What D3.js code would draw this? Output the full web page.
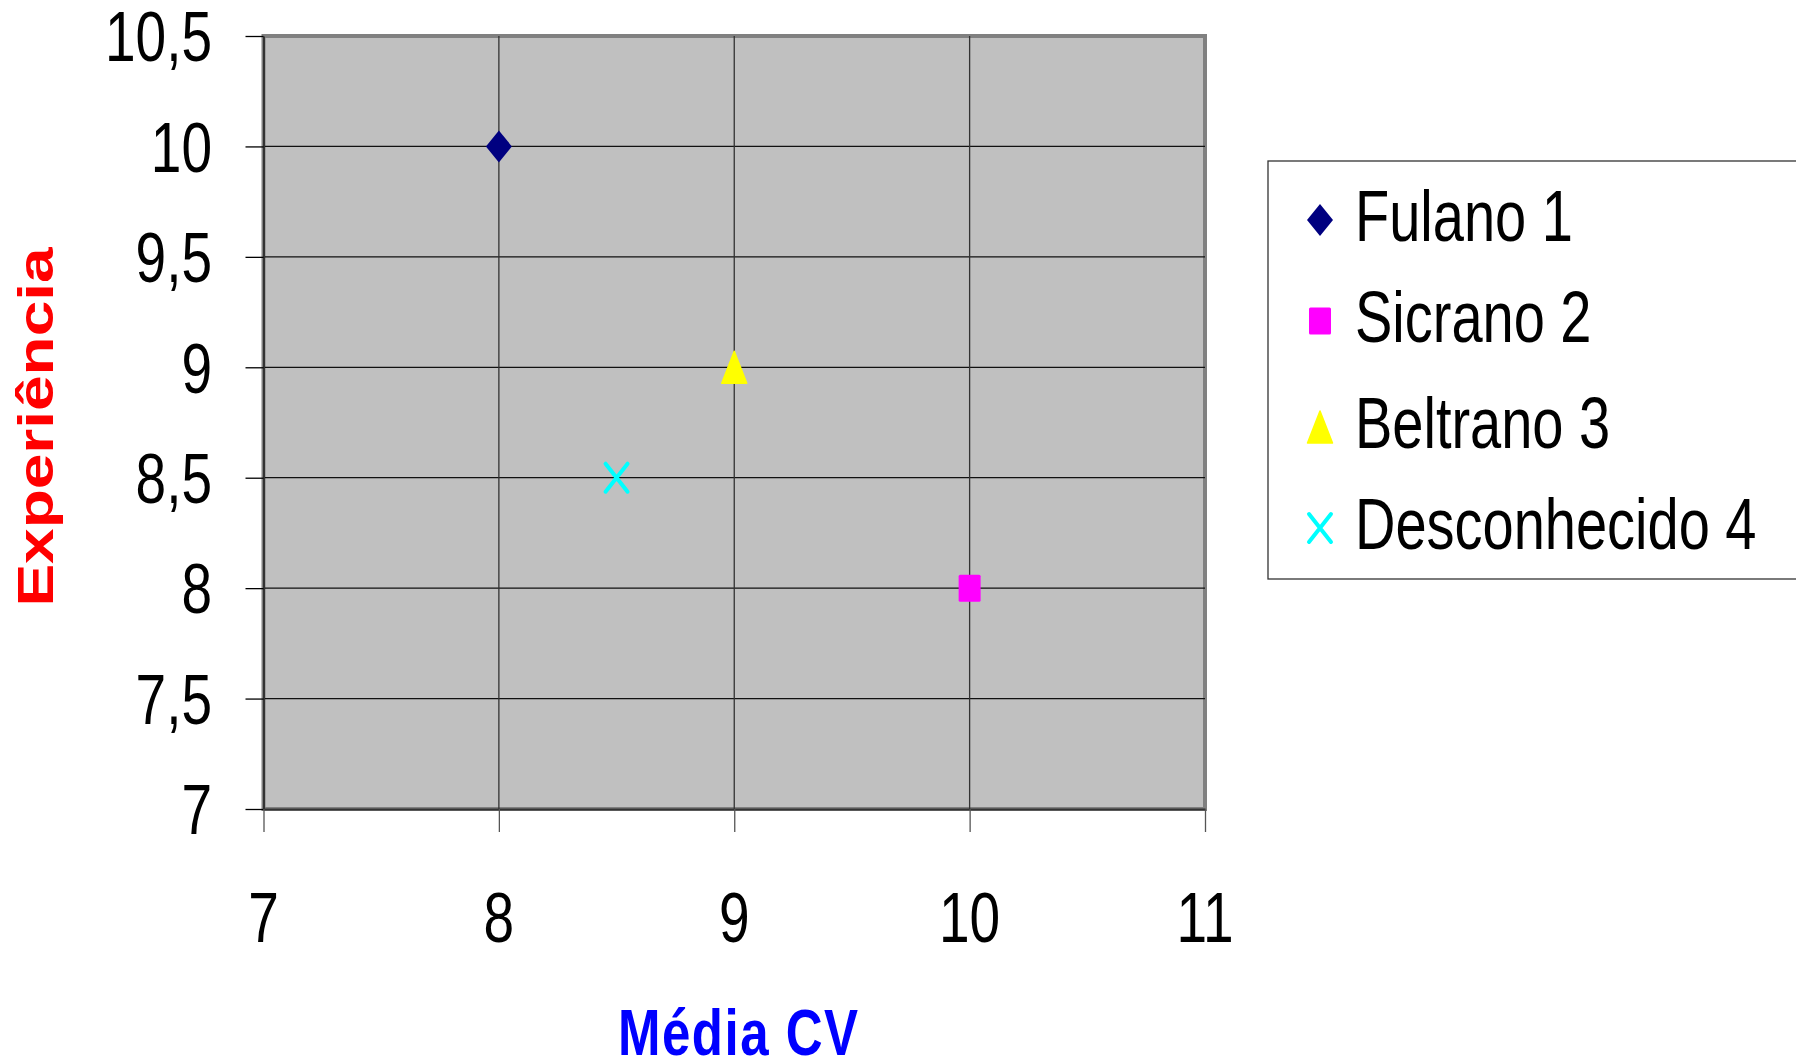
<!DOCTYPE html>
<html>
<head>
<meta charset="utf-8">
<script src="https://cdn.jsdelivr.net/npm/d3@7"></script>
<style>
  html, body { margin: 0; padding: 0; background: #fff; }
  svg { display: block; }
  text { font-family: "Liberation Sans", Arial, sans-serif; }
</style>
</head>
<body>
<svg id="chart" width="1796" height="1061"></svg>
<script>
// ---- data ----
const seriesNames = ["Fulano 1", "Sicrano 2", "Beltrano 3", "Desconhecido 4"];
const xValues = [8, 10, 9, 8.5];
const yValues = [10, 8, 9, 8.5];
const seriesColors = ["#000080", "#ff00ff", "#ffff00", "#00ffff"];
const seriesShapes = ["diamond", "square", "triangle", "cross"];
const xTicks = [7, 8, 9, 10, 11];
const yTicks = [7, 7.5, 8, 8.5, 9, 9.5, 10, 10.5];
const xTitle = "Média CV";
const yTitle = "Experiência";

// ---- layout ----
const plot = { left: 263.5, right: 1205, top: 36, bottom: 809 };
const SY = 1.28; // vertical stretch of the original picture

const svg = d3.select("#chart");
const x = d3.scaleLinear().domain([7, 11]).range([plot.left, plot.right]);
const y = d3.scaleLinear().domain([7, 10.5]).range([plot.bottom, plot.top]);

const fmt = v => String(v).replace(".", ",");

// plot background
svg.append("rect")
  .attr("x", plot.left).attr("y", plot.top)
  .attr("width", plot.right - plot.left).attr("height", plot.bottom - plot.top)
  .attr("fill", "#c0c0c0").attr("stroke", "#808080").attr("stroke-width", 4);

// grid lines
const grid = svg.append("g");
grid.selectAll("line.h").data(yTicks.slice(1, -1)).join("line")
  .attr("x1", plot.left).attr("x2", plot.right)
  .attr("y1", d => y(d)).attr("y2", d => y(d))
  .attr("stroke", "#111").attr("stroke-width", 1.3);
grid.selectAll("line.v").data(xTicks.slice(1, -1)).join("line")
  .attr("y1", plot.top).attr("y2", plot.bottom)
  .attr("x1", d => x(d)).attr("x2", d => x(d))
  .attr("stroke", "#333").attr("stroke-width", 1.3);

// axes (lines + ticks)
const yAxis = d3.axisLeft(y).tickValues(yTicks).tickSize(18).tickSizeOuter(0).tickFormat("");
const gy = svg.append("g").attr("transform", `translate(${plot.left},0)`).call(yAxis);
gy.select(".domain").attr("stroke", "#333").attr("stroke-width", 2);
gy.selectAll(".tick line").attr("stroke", "#000").attr("stroke-width", 1.3);

const xAxis = d3.axisBottom(x).tickValues(xTicks).tickSize(23).tickSizeOuter(0).tickFormat("");
const gx = svg.append("g").attr("transform", `translate(0,${plot.bottom})`).call(xAxis);
gx.select(".domain").attr("stroke", "#333").attr("stroke-width", 2);
gx.selectAll(".tick line").attr("stroke", "#555").attr("stroke-width", 1.3);

// tick labels (stretched vertically like the original)
svg.append("g").selectAll("text").data(yTicks).join("text")
  .attr("transform", d => `translate(212,${y(d)}) scale(1,${SY})`)
  .attr("dy", "0.36em")
  .attr("text-anchor", "end")
  .attr("font-size", 55)
  .attr("fill", "#000")
  .text(fmt);

svg.append("g").selectAll("text").data(xTicks).join("text")
  .attr("transform", d => `translate(${x(d)},942) scale(1,${SY})`)
  .attr("text-anchor", "middle")
  .attr("font-size", 55)
  .attr("fill", "#000")
  .text(fmt);

// axis titles
svg.append("text")
  .attr("transform", `translate(738,1055) scale(1,${SY})`)
  .attr("text-anchor", "middle")
  .attr("font-size", 51).attr("font-weight", "bold")
  .attr("textLength", 240).attr("lengthAdjust", "spacing")
  .attr("fill", "#0000ff")
  .text(xTitle);

svg.append("text")
  .attr("transform", `translate(53,427) scale(1,${SY}) rotate(-90)`)
  .attr("text-anchor", "middle")
  .attr("font-size", 50).attr("font-weight", "bold")
  .attr("fill", "#ff0000")
  .text(yTitle);

// marker drawing
function marker(g, shape, color) {
  if (shape === "diamond") {
    g.append("path").attr("d", "M0,-16L13,0L0,16L-13,0Z").attr("fill", color);
  } else if (shape === "square") {
    g.append("rect").attr("x", -11).attr("y", -13.5).attr("width", 22).attr("height", 27)
      .attr("rx", 1.5).attr("fill", color);
  } else if (shape === "triangle") {
    g.append("path").attr("d", "M0,-16L12.5,16L-12.5,16Z").attr("fill", color)
      .attr("stroke", color).attr("stroke-width", 1.5).attr("stroke-linejoin", "round");
  } else if (shape === "cross") {
    g.append("path").attr("d", "M-11,-14L11,14M11,-14L-11,14")
      .attr("stroke", color).attr("stroke-width", 4).attr("stroke-linecap", "round").attr("fill", "none");
  }
}

// points
const pts = svg.append("g");
seriesNames.forEach((name, i) => {
  const g = pts.append("g").attr("transform", `translate(${x(xValues[i])},${y(yValues[i])})`);
  marker(g, seriesShapes[i], seriesColors[i]);
});

// legend
const legend = svg.append("g");
legend.append("rect")
  .attr("x", 1268).attr("y", 161).attr("width", 600).attr("height", 418)
  .attr("fill", "#fff").attr("stroke", "#333").attr("stroke-width", 1.3);
const legendBase = [241, 342, 448, 549];
seriesNames.forEach((name, i) => {
  const g = legend.append("g").attr("transform", `translate(1320,${legendBase[i] - 21})`);
  marker(g, seriesShapes[i], seriesColors[i]);
  legend.append("text")
    .attr("transform", `translate(1355,${legendBase[i]}) scale(1,${SY})`)
    .attr("font-size", 56)
    .attr("fill", "#000")
    .text(name);
});
</script>
</body>
</html>
